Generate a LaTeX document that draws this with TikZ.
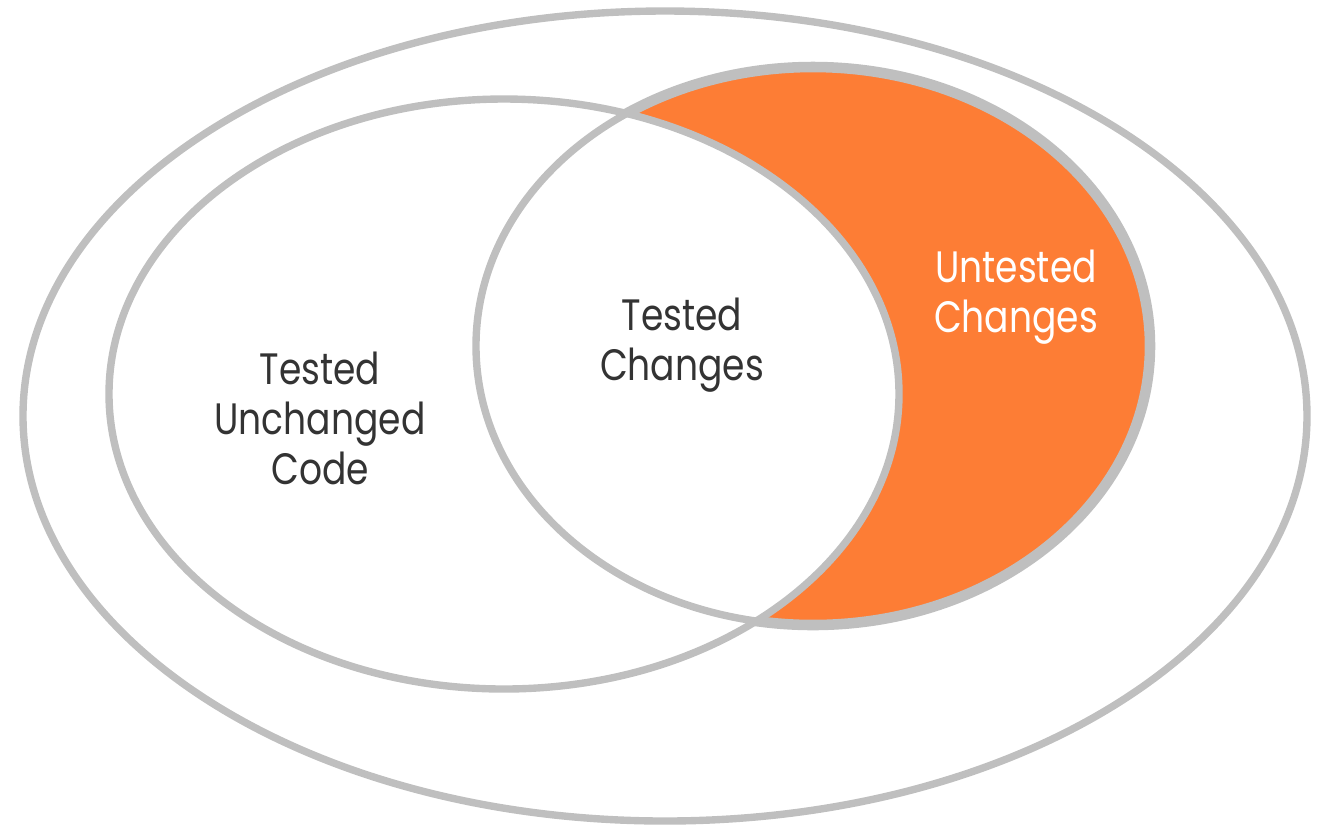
\documentclass[tikz,border=0pt]{standalone}
\usepackage{fontspec}
\setmainfont{Poppins}[FakeStretch=0.82]
\definecolor{ringgray}{HTML}{BFBFBF}
\definecolor{untested}{HTML}{FD7D35}
\definecolor{labeltext}{HTML}{333333}
\begin{document}
\begin{tikzpicture}[x=0.01cm,y=-0.01cm,
  ring/.style={draw=ringgray,line width=2.1pt},
  label/.style={align=center,text=labeltext,inner sep=0pt,font=\fontsize{12.5}{14.2}\selectfont}]
  \useasboundingbox (0,0) rectangle (1317,829);
  % orange part: changes minus tested code
  \begin{scope}
    \clip (813,346) ellipse (337 and 279);
    \fill[untested,even odd rule] (813,346) ellipse (337 and 279) (504,394) ellipse (395 and 295);
  \end{scope}
  \draw[ring] (665,416) ellipse (642 and 405);
  \draw[ring] (504,394) ellipse (395 and 295);
  \draw[ring] (813,346) ellipse (337 and 279);
  \begin{scope}[even odd rule]
    \clip (-10,-10) rectangle (1330,840) (504,394) ellipse (395 and 295);
    \draw[ring,line width=3pt] (813,346) ellipse (337 and 279);
  \end{scope}
  \node[label] (unchanged) at (320,418) {Tested\\Unchanged\\Code};
  \node[label] (tested) at (682,345) {Tested\\Changes};
  \node[label,text=white] (untestedlbl) at (1016,297) {Untested\\Changes};
\end{tikzpicture}
\end{document}
